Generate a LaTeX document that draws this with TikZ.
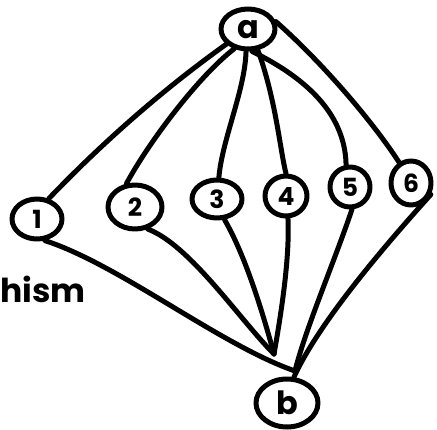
\documentclass[tikz,border=0pt]{standalone}
\usepackage{fontspec}
\setmainfont{Poppins}
\usetikzlibrary{shapes.geometric}
\begin{document}
\begin{tikzpicture}[x=1pt,y=-1pt,
  pen/.style={line width=5pt, line cap=round, line join=round},
  vertex/.style={pen, draw, ellipse, inner sep=0pt, text depth=0pt,
    font=\bfseries\fontsize{25}{25}\selectfont},
  edge/.style={pen}]
\useasboundingbox (0,0) rectangle (437,429);

% vertices
\node[vertex, minimum width=54pt, minimum height=40pt] (a) at (248,29) {\fontsize{32}{32}\selectfont a};
\node[vertex, minimum width=50pt, minimum height=40pt] (n1) at (37,219) {1};
\node[vertex, minimum width=54pt, minimum height=44pt] (n2) at (135,207) {2};
\node[vertex, minimum width=50pt, minimum height=38pt] (n3) at (217,199) {3};
\node[vertex, minimum width=42pt, minimum height=40pt] (n4) at (286,196) {4};
\node[vertex, minimum width=40pt, minimum height=40pt] (n5) at (350,187) {5};
\node[vertex, minimum width=40pt, minimum height=44pt] (n6) at (411,183) {6};
\node[vertex, minimum width=62pt, minimum height=48pt] (b) at (287,403) {\fontsize{32}{32}\selectfont b};

% meeting points above b
\coordinate (hubL) at (274,354);
\coordinate (hubR) at (295,371);

% edges from a
\draw[edge] (a.215) .. controls (165,88) and (105,140) .. (n1.60);
\draw[edge] (a.235) .. controls (200,75) and (150,140) .. (n2.110);
\draw[edge] (a.265) .. controls (245,90) and (222,140) .. (n3.85);
\draw[edge] (a.295) .. controls (276,100) and (280,150) .. (n4.90);
\draw[edge] (a.280) .. controls (300,75) and (345,110) .. (n5.100);
\draw[edge] (a.15)  .. controls (325,65) and (375,125) .. (n6.120);

% edges to b
\draw[edge] (n1.290) .. controls (120,265) and (220,345) .. (hubR);
\draw[edge] (n2.300) .. controls (190,245) and (240,320) .. (hubL);
\draw[edge] (n3.290) .. controls (245,255) and (262,310) .. (hubL);
\draw[edge] (n4.275) .. controls (290,260) and (280,320) .. (hubL);
\draw[edge] (n5.275) .. controls (335,260) and (305,330) .. (hubR);
\draw[edge] (n6.330) .. controls (390,240) and (320,320) .. (b.75);

% tail of a caption running off the left edge
\node[anchor=base west, inner sep=0pt, font=\bfseries\fontsize{33}{33}\selectfont] (cap) at (0,302) {hism};
\end{tikzpicture}
\end{document}
